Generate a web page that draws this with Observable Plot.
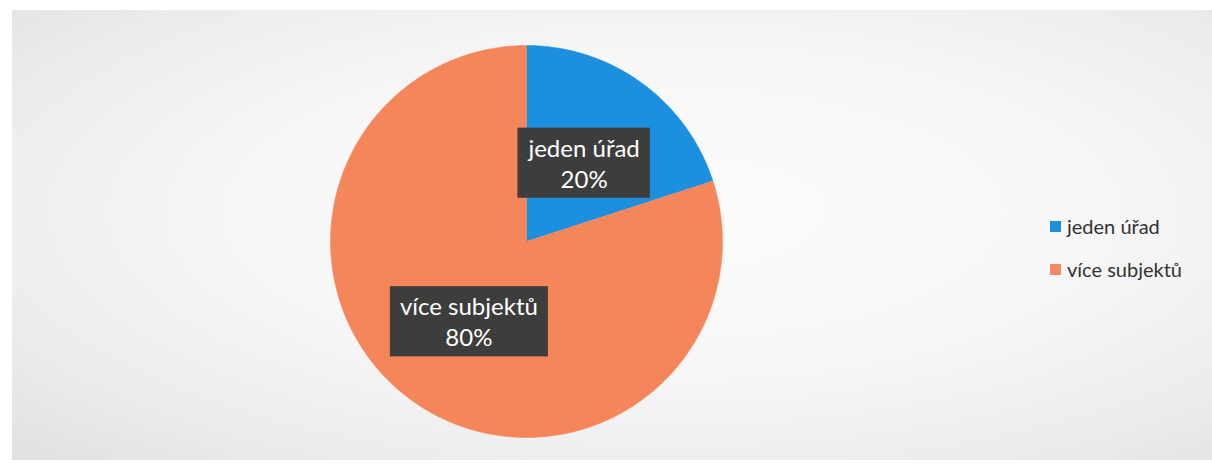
<!DOCTYPE html>
<html>
<head>
<meta charset="utf-8">
<script src="https://cdn.jsdelivr.net/npm/d3@7"></script>
<script src="https://cdn.jsdelivr.net/npm/@observablehq/plot@0.6"></script>
<style>
  html, body { margin: 0; padding: 0; background: #ffffff; }
  #wrap {
    position: relative; width: 1212px; height: 469px; overflow: hidden;
    font-family: Lato, "Open Sans", sans-serif;
  }
  #paper {
    position: absolute; left: 12px; top: 10px; width: 1200px; height: 450px;
    background: radial-gradient(ellipse at 55% 45%, #fcfcfc 0%, #f7f7f7 45%, #ebebeb 80%, #e0e0e0 100%);
  }
  #chart { position: absolute; left: 0; top: 0; }
  #legend { position: absolute; left: 1050px; top: 212px; font-size: 20px; color: #333333; }
  #legend .item { display: flex; align-items: center; height: 28px; margin-bottom: 15px; }
  #legend .sw { width: 11px; height: 11px; margin-right: 6px; }
</style>
</head>
<body>
<div id="wrap">
  <div id="paper"></div>
  <div id="chart"></div>
  <div id="legend"></div>
</div>
<script>
// Data
const categories = ["jeden úřad", "více subjektů"];
const shares = [20, 80];
const colors = ["#1c8fdf", "#f5865a"];
const legendColors = ["#1c8fdf", "#f28a66"];

// Build slice outlines (angles derived from the data)
const total = d3.sum(shares);
const polys = [];
const labels = [];
let start = 0;
categories.forEach((c, i) => {
  const a0 = start, a1 = start + shares[i] / total * 2 * Math.PI;
  const steps = Math.max(4, Math.ceil((a1 - a0) / (Math.PI / 180)));
  polys.push({cat: c, x: 0, y: 0});
  for (let s = 0; s <= steps; s++) {
    const a = a0 + (a1 - a0) * s / steps;
    polys.push({cat: c, x: Math.sin(a), y: Math.cos(a)});
  }
  polys.push({cat: c, x: 0, y: 0});
  const m = (a0 + a1) / 2;
  labels.push({cat: c, x: 0.5 * Math.sin(m), y: 0.5 * Math.cos(m), text: `${c}\n${shares[i]}%`});
  start = a1;
});

const chart = Plot.plot({
  width: 1212,
  height: 469,
  marginLeft: 330,
  marginRight: 490,
  marginTop: 45,
  marginBottom: 32,
  x: {domain: [-1, 1], axis: null},
  y: {domain: [-1, 1], axis: null},
  color: {domain: categories, range: colors},
  style: {background: "transparent", fontFamily: "Lato, 'Open Sans', sans-serif"},
  marks: [
    Plot.line(polys, {x: "x", y: "y", z: "cat", fill: "cat", stroke: "cat", strokeWidth: 0.5, curve: "linear"}),
    Plot.text(labels, {x: "x", y: "y", text: "text", fill: "#ffffff", fontSize: 24, lineHeight: 1.3, className: "plabel"})
  ]
});
document.getElementById("chart").appendChild(chart);

// dark boxes behind data labels
d3.select(chart).selectAll("g.plabel text").each(function () {
  const b = this.getBBox();
  const padX = 10, padY = 5;
  d3.select(this.parentNode).insert("rect", () => this)
    .attr("transform", this.getAttribute("transform"))
    .attr("x", b.x - padX).attr("y", b.y - padY)
    .attr("width", b.width + 2 * padX).attr("height", b.height + 2 * padY)
    .attr("fill", "#3d3d3d");
});

// legend
const lg = d3.select("#legend");
categories.forEach((c, i) => {
  const it = lg.append("div").attr("class", "item");
  it.append("div").attr("class", "sw").style("background", legendColors[i]);
  it.append("span").text(c);
});
</script>
</body>
</html>
